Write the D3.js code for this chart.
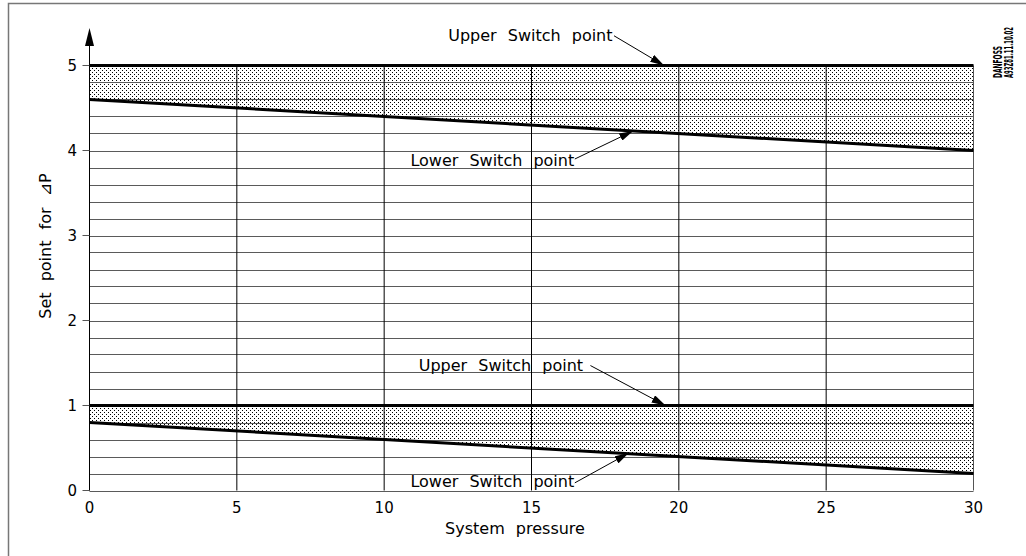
<!DOCTYPE html>
<html>
<head>
<meta charset="utf-8">
<script src="https://cdn.jsdelivr.net/npm/d3@7"></script>
<style>
  html, body { margin: 0; padding: 0; background: #fff; }
  svg { display: block; }
  text { font-family: "DejaVu Sans", sans-serif; fill: #000; }
</style>
</head>
<body>
<div id="chart"></div>
<script>
  // values
  var xTicks = [0, 5, 10, 15, 20, 25, 30];
  var yTicks = [0, 1, 2, 3, 4, 5];
  var gridStep = 0.2;

  // switch bands: [x, upper, lower]
  var upperBand = [[0, 5, 4.6], [30, 5, 4.0]];
  var lowerBand = [[0, 1, 0.8], [30, 1, 0.2]];

  // annotations: tip on the line, label end, leader start (all data units)
  var notes = [
    {text: "Upper Switch point", tipX: 19.5, tipY: 5.0, labX: 17.75, labY: 5.29, endX: 17.8, endY: 5.35},
    {text: "Lower Switch point", tipX: 18.45, tipY: 4.23, labX: 16.45, labY: 3.82, endX: 16.47, endY: 3.9},
    {text: "Upper Switch point", tipX: 19.55, tipY: 1.0, labX: 16.75, labY: 1.41, endX: 17.0, endY: 1.47},
    {text: "Lower Switch point", tipX: 18.3, tipY: 0.44, labX: 16.45, labY: 0.04, endX: 16.47, endY: 0.09}
  ];

  var width = 1026, height = 556;

  var svg = d3.select("#chart").append("svg")
    .attr("width", width).attr("height", height);

  var x = d3.scaleLinear().domain([0, 30]).range([89.5, 973.5]);
  var y = d3.scaleLinear().domain([0, 5]).range([490.5, 65.5]);

  var defs = svg.append("defs");
  var pat = defs.append("pattern").attr("id", "dots")
    .attr("patternUnits", "userSpaceOnUse")
    .attr("width", 4).attr("height", 4);
  pat.append("rect").attr("x", 0).attr("y", 0).attr("width", 1).attr("height", 1).attr("fill", "#000");
  pat.append("rect").attr("x", 2).attr("y", 2).attr("width", 1).attr("height", 1).attr("fill", "#000");

  defs.append("marker").attr("id", "head")
    .attr("viewBox", "0 0 14 8").attr("refX", 14).attr("refY", 4)
    .attr("markerWidth", 14).attr("markerHeight", 8)
    .attr("markerUnits", "userSpaceOnUse").attr("orient", "auto")
    .append("path").attr("d", "M0,0L14,4L0,8Z").attr("fill", "#000");

  // frame
  svg.append("path").attr("d", "M8.5,556V3.5H1026")
    .attr("fill", "none").attr("stroke", "#777").attr("stroke-width", 1.5);

  // stippled bands
  var area = d3.area().x(function(d) { return x(d[0]); })
    .y0(function(d) { return y(d[2]); }).y1(function(d) { return y(d[1]); });
  [upperBand, lowerBand].forEach(function(b) {
    svg.append("path").datum(b).attr("d", area).attr("fill", "url(#dots)");
  });

  // horizontal grid
  var hLines = d3.range(0, 5 + 1e-6, gridStep);
  svg.append("g").selectAll("line").data(hLines).enter().append("line")
    .attr("x1", x(0)).attr("x2", x(30))
    .attr("y1", function(d) { return Math.round(y(d)) + 0.5; })
    .attr("y2", function(d) { return Math.round(y(d)) + 0.5; })
    .attr("stroke", "#5a5a5a").attr("stroke-width", 1);

  // vertical grid
  svg.append("g").selectAll("line").data(xTicks).enter().append("line")
    .attr("x1", function(d) { return x(d); }).attr("x2", function(d) { return x(d); })
    .attr("y1", y(5)).attr("y2", y(0))
    .attr("stroke", function(d) { return d === 30 ? "#555" : "#000"; })
    .attr("stroke-width", 1);

  // y axis with arrow
  svg.append("line").attr("x1", x(0)).attr("x2", x(0))
    .attr("y1", y(0)).attr("y2", 40).attr("stroke", "#000");
  svg.append("path").attr("d", "M" + x(0) + ",28L" + (x(0) + 4.5) + ",46L" + (x(0) - 4.5) + ",46Z")
    .attr("fill", "#000");

  // y ticks + labels
  var yt = svg.append("g").selectAll("g").data(yTicks).enter().append("g")
    .attr("transform", function(d) { return "translate(0," + y(d) + ")"; });
  yt.append("line").attr("x1", x(0) - 7).attr("x2", x(0)).attr("stroke", "#555");
  yt.append("text").attr("x", 77).attr("dy", "0.36em").attr("text-anchor", "end")
    .style("font-size", "15px").text(function(d) { return d; });

  // x labels
  svg.append("g").selectAll("text").data(xTicks).enter().append("text")
    .attr("x", function(d) { return x(d); }).attr("y", 513)
    .attr("text-anchor", "middle").style("font-size", "15px")
    .text(function(d) { return d; });

  // thick switch lines
  var line = function(i) {
    return d3.line().x(function(d) { return x(d[0]); }).y(function(d) { return y(d[i]); });
  };
  [upperBand, lowerBand].forEach(function(b) {
    svg.append("path").datum(b).attr("d", line(1)).attr("fill", "none")
      .attr("stroke", "#000").attr("stroke-width", 3);
    svg.append("path").datum(b).attr("d", line(2)).attr("fill", "none")
      .attr("stroke", "#000").attr("stroke-width", 3);
  });

  // annotations
  var ng = svg.append("g").selectAll("g").data(notes).enter().append("g");
  ng.append("text")
    .attr("x", function(d) { return x(d.labX); })
    .attr("y", function(d) { return y(d.labY); })
    .attr("text-anchor", "end").style("font-size", "16px")
    .style("word-spacing", "6px")
    .text(function(d) { return d.text; });
  ng.append("line")
    .attr("x1", function(d) { return x(d.endX); })
    .attr("y1", function(d) { return y(d.endY); })
    .attr("x2", function(d) { return x(d.tipX); })
    .attr("y2", function(d) { return y(d.tipY); })
    .attr("stroke", "#000").attr("stroke-width", 1)
    .attr("marker-end", "url(#head)");

  // axis titles
  svg.append("text").attr("x", 515).attr("y", 534).attr("text-anchor", "middle")
    .style("font-size", "16px").style("word-spacing", "6px")
    .text("System pressure");
  svg.append("text").attr("transform", "translate(51,246) rotate(-90)")
    .attr("text-anchor", "middle")
    .style("font-size", "16px").style("word-spacing", "6px")
    .text("Set point for \u22BFP");

  // drawing id
  svg.append("text").attr("transform", "translate(1002,78) rotate(-90)")
    .style("font-size", "12px").style("font-weight", "bold")
    .attr("textLength", 32).attr("lengthAdjust", "spacingAndGlyphs")
    .text("DANFOSS");
  svg.append("text").attr("transform", "translate(1013,78) rotate(-90)")
    .style("font-size", "12px").style("font-weight", "bold")
    .attr("textLength", 51).attr("lengthAdjust", "spacingAndGlyphs")
    .text("A93Z81.11.10.02");
</script>
</body>
</html>
